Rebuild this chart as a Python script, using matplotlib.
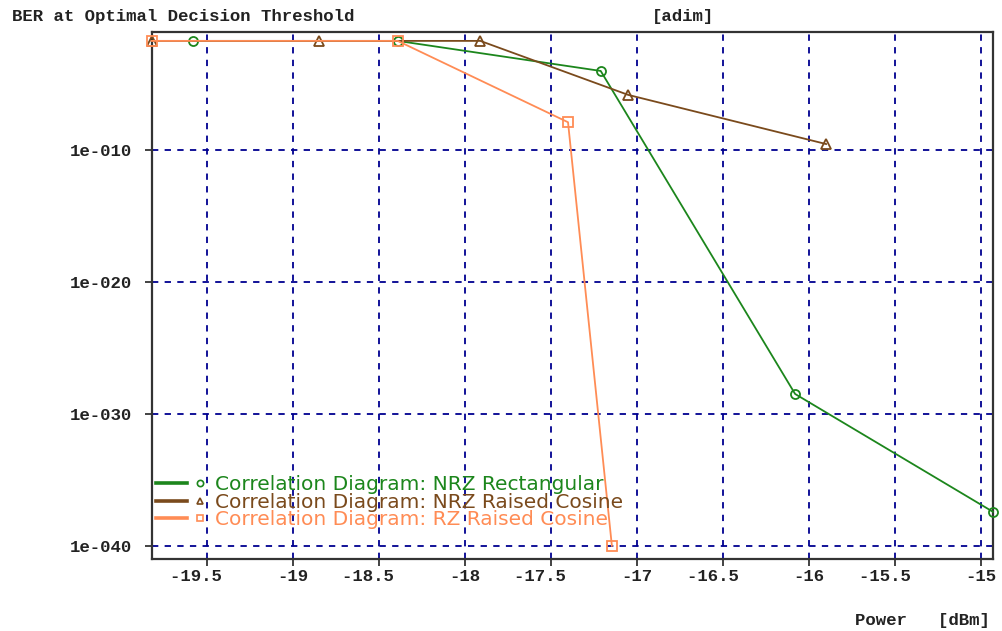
import matplotlib
matplotlib.use("Agg")
import matplotlib.pyplot as plt
from matplotlib import ticker
from matplotlib.lines import Line2D
from matplotlib.legend_handler import HandlerTuple

# power (dBm) and BER
nrz_rect_power = [-19.58, -18.39, -17.21, -16.08, -14.93]
nrz_rect_ber = [2e-2, 2e-2, 1.05e-4, 3.3e-29, 3.8e-38]

nrz_rc_power = [-19.82, -18.85, -17.91, -17.05, -15.90]
nrz_rc_ber = [2e-2, 2e-2, 2e-2, 1.6e-6, 3.0e-10]

rz_rc_power = [-19.82, -18.39, -17.40, -17.145]
rz_rc_ber = [2e-2, 2e-2, 1.35e-8, 1e-40]

series_labels = [
    "Correlation Diagram: NRZ Rectangular",
    "Correlation Diagram: NRZ Raised Cosine",
    "Correlation Diagram: RZ Raised Cosine",
]
x_ticks = [-19.5, -19, -18.5, -18, -17.5, -17, -16.5, -16, -15.5, -15]
y_ticks = [1e-10, 1e-20, 1e-30, 1e-40]
y_tick_labels = ["1e-010", "1e-020", "1e-030", "1e-040"]

colors = ["#1c861c", "#7a4a1c", "#ff8c55"]
markers = ["o", "^", "s"]
mono = {"family": "Liberation Mono", "weight": "bold", "size": 12.5}

fig = plt.figure(figsize=(10.03, 6.31), dpi=100)
ax = fig.add_axes([0.1512, 0.1141, 0.8388, 0.8357])

data = [(nrz_rect_power, nrz_rect_ber),
        (nrz_rc_power, nrz_rc_ber),
        (rz_rc_power, rz_rc_ber)]

handles = []
for (x, y), color, marker in zip(data, colors, markers):
    ax.plot(x, y, color=color, lw=1.3, marker=marker, ms=6.5,
            mfc="none", mec=color, mew=1.3, clip_on=False, zorder=3)
    handles.append((Line2D([], [], color=color, lw=2.6),
                    Line2D([], [], ls="none", marker=marker, ms=4.5,
                           mfc="none", mec=color, mew=1.2)))

ax.set_yscale("log")
ax.set_xlim(min(nrz_rc_power), max(nrz_rect_power))
ax.set_ylim(1e-41, 1e-1)

ax.yaxis.set_major_locator(ticker.FixedLocator(y_ticks))
ax.yaxis.set_minor_locator(ticker.NullLocator())
ax.set_yticklabels(y_tick_labels, fontdict=mono)
ax.xaxis.set_major_locator(ticker.FixedLocator(x_ticks))
# labels with a decimal part sit about one character left of their tick
x_tick_labels = [f"{t:g}" if t == int(t) else f"{t:g}  " for t in x_ticks]
ax.set_xticklabels(x_tick_labels, fontdict=mono)

ax.tick_params(axis="both", direction="out", length=5, width=1.2,
               color="#222222", labelcolor="#222222")
ax.tick_params(axis="x", pad=2)
ax.tick_params(axis="y", pad=9)

ax.grid(True, which="major", color="#000090", ls=(0, (3.5, 3.5)), lw=1.3)
for spine in ax.spines.values():
    spine.set_color("#333333")
    spine.set_linewidth(1.6)

leg = ax.legend(handles, series_labels, loc="lower left",
                bbox_to_anchor=(-0.011, 0.03),
                handler_map={tuple: HandlerTuple(ndivide=None, pad=-0.1)},
                handlelength=2.9, handletextpad=0.0, labelspacing=-0.08,
                borderaxespad=0.3, frameon=False,
                prop={"family": "DejaVu Sans", "size": 14.5})
for text, color in zip(leg.get_texts(), colors):
    text.set_color(color)

fig.text(12 / 1003, 1 - 16 / 631, "BER at Optimal Decision Threshold",
         ha="left", va="center", color="#222222", **mono)
fig.text(652 / 1003, 1 - 16 / 631, "[adim]",
         ha="left", va="center", color="#222222", **mono)
fig.text(990 / 1003, 1 - 620 / 631, "Power   [dBm]",
         ha="right", va="center", color="#222222", **mono)

fig.savefig("out.png", dpi=100)
